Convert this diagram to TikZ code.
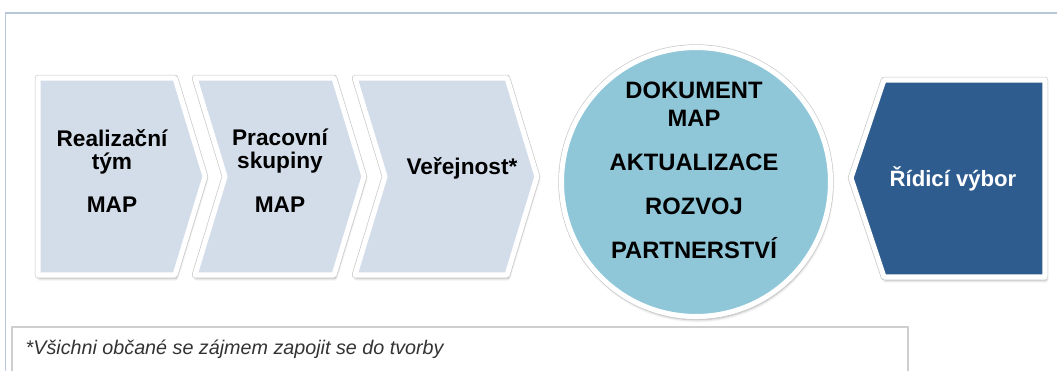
\documentclass[tikz,border=0pt]{standalone}
\usepackage{fontspec}
\setmainfont{Liberation Sans}
\usetikzlibrary{shadows.blur}

\definecolor{chevfill}{HTML}{D3DDEA}
\definecolor{docfill}{HTML}{8FC7D9}
\definecolor{boardfill}{HTML}{2F5C8F}
\definecolor{framecol}{HTML}{B7C6D9}
\definecolor{notecol}{HTML}{CFCFCF}

\begin{document}
\begin{tikzpicture}[x=0.75pt, y=-0.75pt,
        rimbox/.style={preaction={draw=black!22, line width=4.8pt, line join=round,
            blur shadow={shadow blur steps=8, shadow xshift=0.8pt, shadow yshift=-2.5pt, shadow opacity=30}},
            draw=white, line width=3.8pt, line join=round},
        boldtext/.style={font=\bfseries\fontsize{17}{17.3}\selectfont, align=center, text=black}]
    \clip (0,0) rectangle (1057,371);

    % frame
    \draw[framecol, line width=1.1pt] (5.5,380) -- (5.5,13) -- (1060,13);

    % chevrons
    \draw[rimbox, fill=chevfill] (38,78) -- (175,78) -- (205,176.5) -- (175,275) -- (38,275) -- cycle;
    \draw[rimbox, fill=chevfill] (195,78) -- (334,78) -- (364,176.5) -- (334,275) -- (195,275) -- (225,176.5) -- cycle;
    \draw[rimbox, fill=chevfill] (355,78) -- (507,78) -- (537,176.5) -- (507,275) -- (355,275) -- (385,176.5) -- cycle;

    \node[boldtext] (team) at (112,171) {Realizační\\tým\\[15.5pt]MAP};
    \node[boldtext] (groups) at (280,171) {Pracovní\\skupiny\\[15.5pt]MAP};
    \node[boldtext] (public) at (462,168) {Veřejnost*};

    % circle
    \node[rimbox, fill=docfill, circle, inner sep=0pt, minimum size=201.75pt] (doc) at (696,182) {};
    \node[boldtext, font=\bfseries\fontsize{17.8}{21}\selectfont] (doctext) at (694,170)
        {DOKUMENT\\MAP\\[12pt]AKTUALIZACE\\[12pt]ROZVOJ\\[12pt]PARTNERSTVÍ};

    % steering committee
    \draw[rimbox, fill=boardfill] (851,178) -- (884,80) -- (1045,80) -- (1045,277) -- (884,277) -- cycle;
    \node[boldtext, font=\bfseries\fontsize{16.6}{17}\selectfont, text=white] (board) at (953,179) {Řídicí výbor};

    % footnote
    \draw[notecol, line width=0.8pt, fill=white] (12,327) rectangle (908,385);
    \node[anchor=west, font=\itshape\fontsize{14.8}{16}\selectfont, text=black!80] (note) at (21,349)
        {*Všichni občané se zájmem zapojit se do tvorby};
\end{tikzpicture}
\end{document}
